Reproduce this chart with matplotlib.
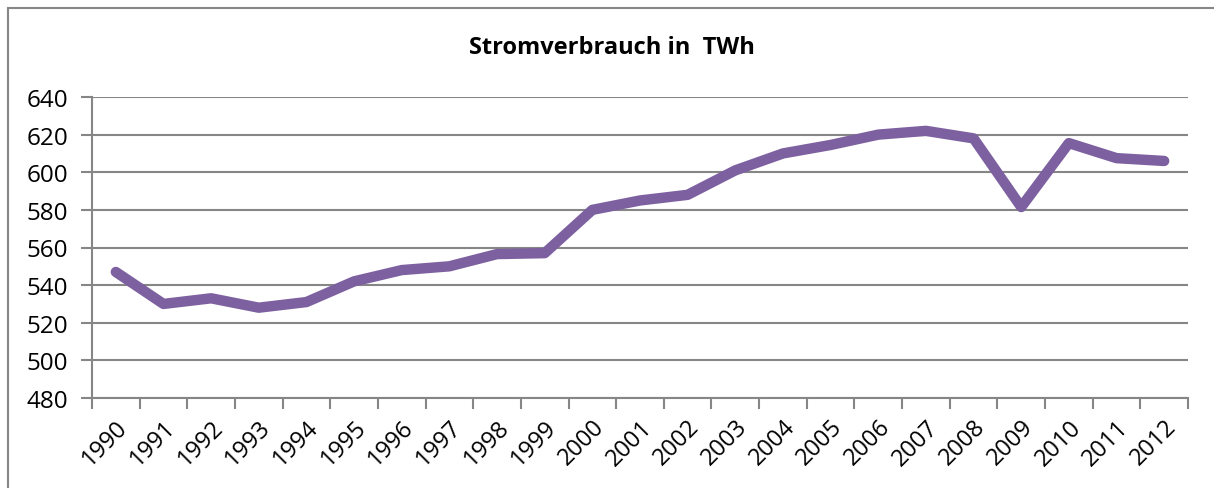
import matplotlib.pyplot as plt
from matplotlib.patches import Rectangle

years = [str(y) for y in range(1990, 2013)]
consumption = [547, 530, 533, 528, 531, 542, 548, 550, 556.5, 557, 580, 585, 588,
               601, 610, 614.5, 620, 622, 618, 581.5, 615.5, 607.5, 606]
y_ticks = [480, 500, 520, 540, 560, 580, 600, 620, 640]

plt.rcParams['font.family'] = ['Open Sans', 'DejaVu Sans']

W, H = 1214, 489
fig = plt.figure(figsize=(W / 100, H / 100), dpi=100)
ax = fig.add_axes([92 / W, 1 - 399 / H, (1188 - 92) / W, (399 - 98) / H])

grey = '#868686'
x = range(len(years))
ax.plot(x, consumption, color='#7D60A0', linewidth=7.5, solid_capstyle='round',
        solid_joinstyle='round', zorder=3)

ax.set_xlim(-0.5, len(years) - 0.5)
ax.set_ylim(480, 640)
ax.set_yticks(y_ticks)
ax.yaxis.grid(True, color=grey, linewidth=1.5)
ax.set_axisbelow(True)

# category boundaries get the tick marks, category centres get the labels
ax.set_xticks([i - 0.5 for i in range(len(years) + 1)], minor=False)
ax.set_xticklabels([])
ax.set_xticks(list(x), minor=True)
ax.set_xticklabels(years, minor=True, rotation=45, ha='right', va='top',
                   rotation_mode='anchor', fontsize=17)
ax.tick_params(axis='x', which='major', length=8, width=1.5, color=grey, direction='out')
ax.tick_params(axis='x', which='minor', length=0, pad=12)
ax.tick_params(axis='y', length=8, width=1.5, color=grey, labelsize=17.5, pad=9)

for side in ['top', 'right']:
    ax.spines[side].set_visible(False)
for side in ['left', 'bottom']:
    ax.spines[side].set_color(grey)
    ax.spines[side].set_linewidth(1.5)

fig.text(612 / W, 1 - 48 / H, 'Stromverbrauch in  TWh', ha='center', va='center',
         fontsize=17, fontweight='bold')

fig.patches.append(Rectangle((8 / W, -0.1), 1.1, 1 - 9 / H + 0.1, transform=fig.transFigure,
                             fill=False, edgecolor=grey, linewidth=1.5))

fig.savefig('out.png', dpi=100)
